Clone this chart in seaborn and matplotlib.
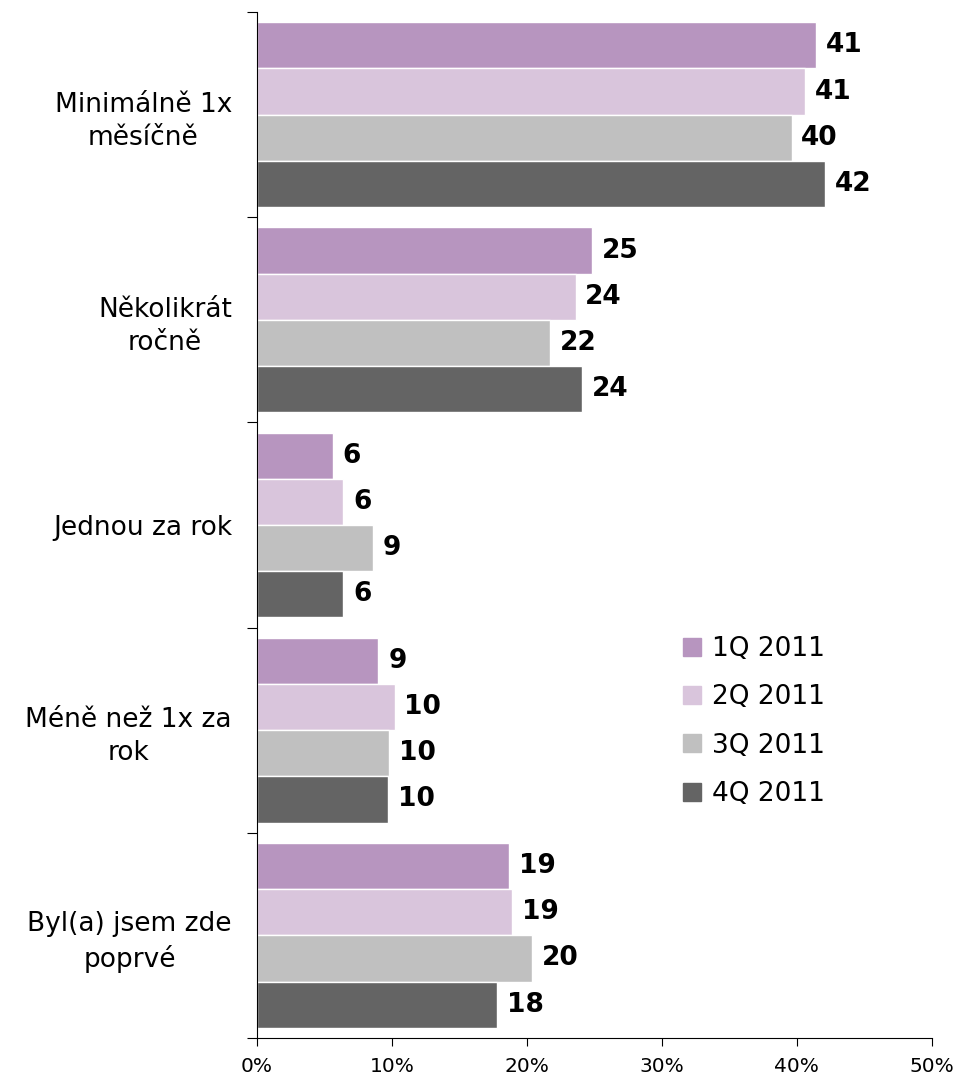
import matplotlib
matplotlib.use("Agg")
import matplotlib.pyplot as plt
import seaborn as sns
import pandas as pd
from matplotlib.lines import Line2D
from matplotlib.ticker import FixedLocator, PercentFormatter

# data (percent)
categories = ["Minimálně 1x\nměsíčně", "Několikrát\nročně", "Jednou za rok",
              "Méně než 1x za\nrok", "Byl(a) jsem zde\npoprvé"]
series = ["1Q 2011", "2Q 2011", "3Q 2011", "4Q 2011"]
q1 = [41.4, 24.8, 5.6, 9.0, 18.7]
q2 = [40.6, 23.6, 6.4, 10.2, 18.9]
q3 = [39.6, 21.7, 8.6, 9.8, 20.4]
q4 = [42.1, 24.1, 6.4, 9.7, 17.8]
colors = ["#B795BF", "#D9C5DC", "#C0C0C0", "#646464"]

df = pd.DataFrame({
    "kategorie": categories * 4,
    "serie": [s for s in series for _ in categories],
    "hodnota": q1 + q2 + q3 + q4,
})

sns.set_style("white")
plt.rcParams["font.family"] = ["DejaVu Sans"]
plt.rcParams["text.color"] = "black"
plt.rcParams["xtick.color"] = "black"
plt.rcParams["ytick.color"] = "black"

fig = plt.figure(figsize=(9.57, 10.82), dpi=100)
ax = fig.add_axes([0.2685, 0.0407, 0.7053, 0.9482])

sns.barplot(data=df, y="kategorie", x="hodnota", hue="serie", palette=colors,
            orient="h", width=0.9, edgecolor="white", linewidth=1,
            saturation=1, legend=False, ax=ax)

for cont in ax.containers:
    ax.bar_label(cont, labels=[f"{v:.0f}" for v in cont.datavalues],
                 padding=7, fontsize=19, fontweight="bold", color="black")

ax.set_xlim(0, 50)
ax.set_ylim(4.5, -0.5)
ax.set_xticks(range(0, 51, 10))
ax.xaxis.set_major_formatter(PercentFormatter(xmax=100, decimals=0))
ax.set_xlabel("")
ax.set_ylabel("")

# category labels centred, boundary ticks as minor ticks
ax.yaxis.set_minor_locator(FixedLocator([i - 0.5 for i in range(len(categories) + 1)]))
ax.tick_params(axis="y", which="major", length=0, pad=18, labelsize=19)
ax.tick_params(axis="y", which="minor", length=7, width=0.8, color="black", direction="out", left=True)
ax.tick_params(axis="x", which="major", length=6, width=0.8, color="black", direction="out",
               bottom=True, pad=8, labelsize=14.5)
for lab in ax.get_yticklabels():
    lab.set_multialignment("center")
    lab.set_linespacing(1.35)

sns.despine(ax=ax, top=True, right=True)
for s in ["left", "bottom"]:
    ax.spines[s].set_color("black")
    ax.spines[s].set_linewidth(0.8)

handles = [Line2D([], [], marker="s", linestyle="", color=c, markersize=13) for c in colors]
ax.legend(handles, series, loc="upper left", bbox_to_anchor=(0.631, 0.392),
          frameon=False, fontsize=19, handlelength=0.7, handletextpad=0.4,
          labelspacing=0.85, borderpad=0, borderaxespad=0)

fig.savefig("out.png", dpi=100)
